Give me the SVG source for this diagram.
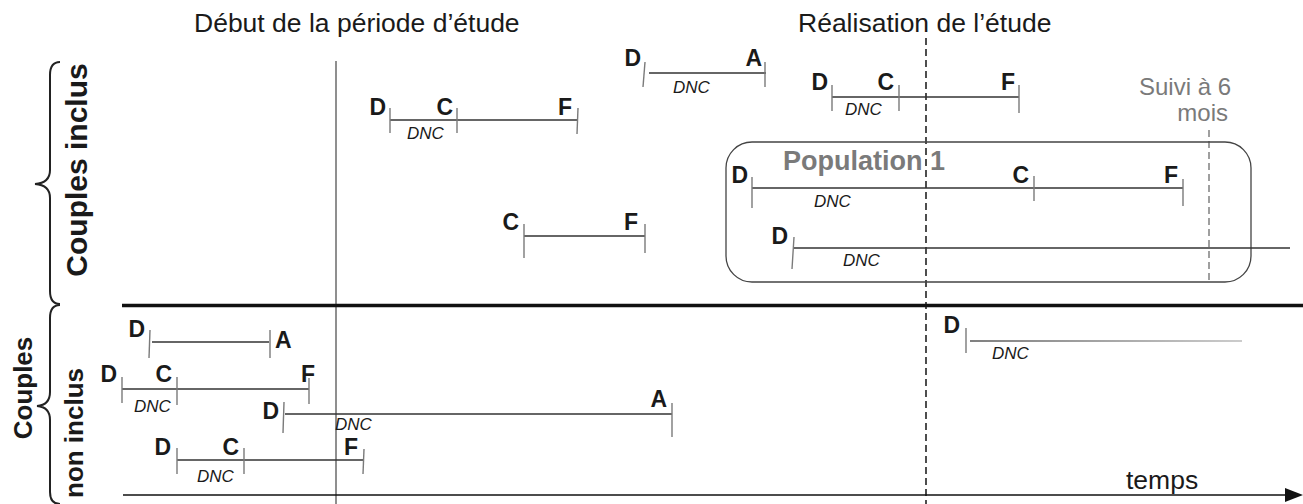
<svg xmlns="http://www.w3.org/2000/svg" width="1303" height="504" viewBox="0 0 1303 504">
<style>
text{font-family:"Liberation Sans",Arial,Helvetica,sans-serif;}
.hd{font-size:26.5px;fill:#1a1a1a;}
.lb{font-size:23px;font-weight:bold;fill:#1a1a1a;text-anchor:end;}
.lbs{font-size:23px;font-weight:bold;fill:#1a1a1a;}
.dnc{font-size:17px;font-style:italic;fill:#1a1a1a;}
.tk{stroke:#7a7a7a;stroke-width:1.4;fill:none;}
.ln{stroke:#333;stroke-width:1.3;fill:none;}
.side{font-size:30px;font-weight:bold;fill:#1a1a1a;text-anchor:middle;}
.side2{font-size:26px;font-weight:bold;fill:#1a1a1a;text-anchor:middle;}
.suivi{font-size:24px;fill:#7a7a7a;text-anchor:end;}
.pop{font-size:27px;font-weight:bold;fill:#7a7a7a;}
</style>
<defs>
<linearGradient id="fade" gradientUnits="userSpaceOnUse" x1="970" y1="0" x2="1242" y2="0">
<stop offset="0" stop-color="#555"/>
<stop offset="1" stop-color="#bbb"/>
</linearGradient>
</defs>
<rect width="1303" height="504" fill="#fff"/>

<g id="headers">
<text class="hd" x="194" y="32">Début de la période d’étude</text>
<text class="hd" x="798" y="32">Réalisation de l’étude</text>
</g>

<g id="side-labels">
<text class="side" transform="translate(87,170) rotate(-90)">Couples inclus</text>
<text class="side2" transform="translate(32,388) rotate(-90)">Couples</text>
<text class="side2" transform="translate(83,433) rotate(-90)">non inclus</text>
<path d="M60,62 Q50,62 50,75 L50,170 Q50,183 35,184 Q50,185 50,198 L50,291 Q50,304 60,304" fill="none" stroke="#222" stroke-width="2"/>
<path d="M60,305 Q50,305 50,318 L50,392 Q50,405 37,406 Q50,407 50,420 L50,492 Q50,504 60,504" fill="none" stroke="#222" stroke-width="2"/>
</g>

<g id="connectors">
<line x1="336" y1="61" x2="336" y2="504" stroke="#6a6a6a" stroke-width="1.5"/>
<line x1="926" y1="38" x2="926" y2="504" stroke="#222" stroke-width="1.6" stroke-dasharray="7,4"/>
<line x1="1209" y1="130" x2="1209" y2="282" stroke="#777" stroke-width="1.4" stroke-dasharray="7,4"/>
<line x1="122" y1="305.5" x2="1303" y2="305.5" stroke="#111" stroke-width="3.5"/>
<line x1="123" y1="495" x2="1287" y2="495" stroke="#111" stroke-width="1.5"/>
<polygon points="1285,488 1303,495 1285,502" fill="#111"/>
</g>

<g id="axis-label">
<text class="hd" x="1126" y="489">temps</text>
</g>

<g id="suivi">
<text class="suivi" x="1231" y="95">Suivi à 6</text>
<text class="suivi" x="1228" y="121">mois</text>
</g>

<g id="population1">
<rect x="726" y="142" width="525" height="140" rx="26" fill="none" stroke="#444" stroke-width="1.3"/>
<text class="pop" x="783" y="170">Population 1</text>
</g>

<g id="interval-top-left">
<line class="ln" x1="390" y1="120" x2="578" y2="120"/>
<line class="tk" x1="390" y1="108" x2="390" y2="133"/>
<line class="tk" x1="457" y1="108" x2="457" y2="133"/>
<line class="tk" x1="578" y1="108" x2="577" y2="134"/>
<text class="lb" x="386" y="115">D</text>
<text class="lb" x="453" y="115">C</text>
<text class="lb" x="572" y="115">F</text>
<text class="dnc" x="407" y="139">DNC</text>
</g>

<g id="interval-top-mid">
<line class="ln" x1="649" y1="73" x2="766" y2="73"/>
<line class="tk" x1="645" y1="62" x2="643" y2="87"/>
<line class="tk" x1="765" y1="62" x2="765" y2="87"/>
<text class="lb" x="641" y="66">D</text>
<text class="lb" x="762" y="66">A</text>
<text class="dnc" x="673" y="93">DNC</text>
</g>

<g id="interval-top-right">
<line class="ln" x1="832" y1="97" x2="1019" y2="97"/>
<line class="tk" x1="832" y1="85" x2="832" y2="111"/>
<line class="tk" x1="899" y1="85" x2="899" y2="111"/>
<line class="tk" x1="1019" y1="85" x2="1019" y2="113"/>
<text class="lb" x="828" y="90">D</text>
<text class="lb" x="894" y="90">C</text>
<text class="lb" x="1015" y="90">F</text>
<text class="dnc" x="845" y="115">DNC</text>
</g>

<g id="interval-cf">
<line class="ln" x1="524" y1="236" x2="645" y2="236"/>
<line class="tk" x1="524" y1="224" x2="524" y2="258"/>
<line class="tk" x1="645" y1="224" x2="645" y2="253"/>
<text class="lb" x="519" y="230">C</text>
<text class="lb" x="638" y="230">F</text>
</g>

<g id="interval-pop-1">
<line class="ln" x1="752" y1="188" x2="1183" y2="188"/>
<line class="tk" x1="752" y1="177" x2="752" y2="208"/>
<line class="tk" x1="1034" y1="176" x2="1034" y2="201"/>
<line class="tk" x1="1183" y1="179" x2="1183" y2="206"/>
<text class="lb" x="748" y="183">D</text>
<text class="lb" x="1029" y="183">C</text>
<text class="lb" x="1178" y="183">F</text>
<text class="dnc" x="814" y="207">DNC</text>
</g>

<g id="interval-pop-2">
<line class="ln" x1="793" y1="248" x2="1290" y2="248"/>
<line class="tk" x1="794" y1="237" x2="792" y2="269"/>
<text class="lb" x="788" y="244">D</text>
<text class="dnc" x="843" y="266">DNC</text>
</g>

<g id="interval-low-1">
<line class="ln" x1="152" y1="342" x2="269" y2="342"/>
<line class="tk" x1="150" y1="330" x2="149" y2="358"/>
<line class="tk" x1="270" y1="330" x2="270" y2="358"/>
<text class="lb" x="145" y="337">D</text>
<text class="lbs" x="275" y="348">A</text>
</g>

<g id="interval-low-2">
<line class="ln" x1="122" y1="389" x2="309" y2="389"/>
<line class="tk" x1="122" y1="377" x2="122" y2="403"/>
<line class="tk" x1="177" y1="377" x2="177" y2="405"/>
<line class="tk" x1="309" y1="378" x2="309" y2="404"/>
<text class="lb" x="117" y="382">D</text>
<text class="lb" x="172" y="382">C</text>
<text class="lb" x="315" y="382">F</text>
<text class="dnc" x="134" y="412">DNC</text>
</g>

<g id="interval-low-3">
<line class="ln" x1="285" y1="414" x2="672" y2="414"/>
<line class="tk" x1="284" y1="402" x2="283" y2="433"/>
<line class="tk" x1="672" y1="403" x2="672" y2="437"/>
<text class="lb" x="279" y="419">D</text>
<text class="lb" x="667" y="407">A</text>
<text class="dnc" x="335" y="430">DNC</text>
</g>

<g id="interval-low-4">
<line class="ln" x1="177" y1="460" x2="364" y2="460"/>
<line class="tk" x1="177" y1="448" x2="177" y2="474"/>
<line class="tk" x1="244" y1="448" x2="244" y2="474"/>
<line class="tk" x1="364" y1="449" x2="363" y2="474"/>
<text class="lb" x="171" y="455">D</text>
<text class="lb" x="239" y="455">C</text>
<text class="lb" x="358" y="455">F</text>
<text class="dnc" x="197" y="482">DNC</text>
</g>

<g id="interval-low-right">
<line x1="970" y1="341" x2="1242" y2="341" stroke="url(#fade)" stroke-width="1.3"/>
<line class="tk" x1="966" y1="328" x2="966" y2="353"/>
<text class="lb" x="960" y="333">D</text>
<text class="dnc" x="992" y="359">DNC</text>
</g>
</svg>
